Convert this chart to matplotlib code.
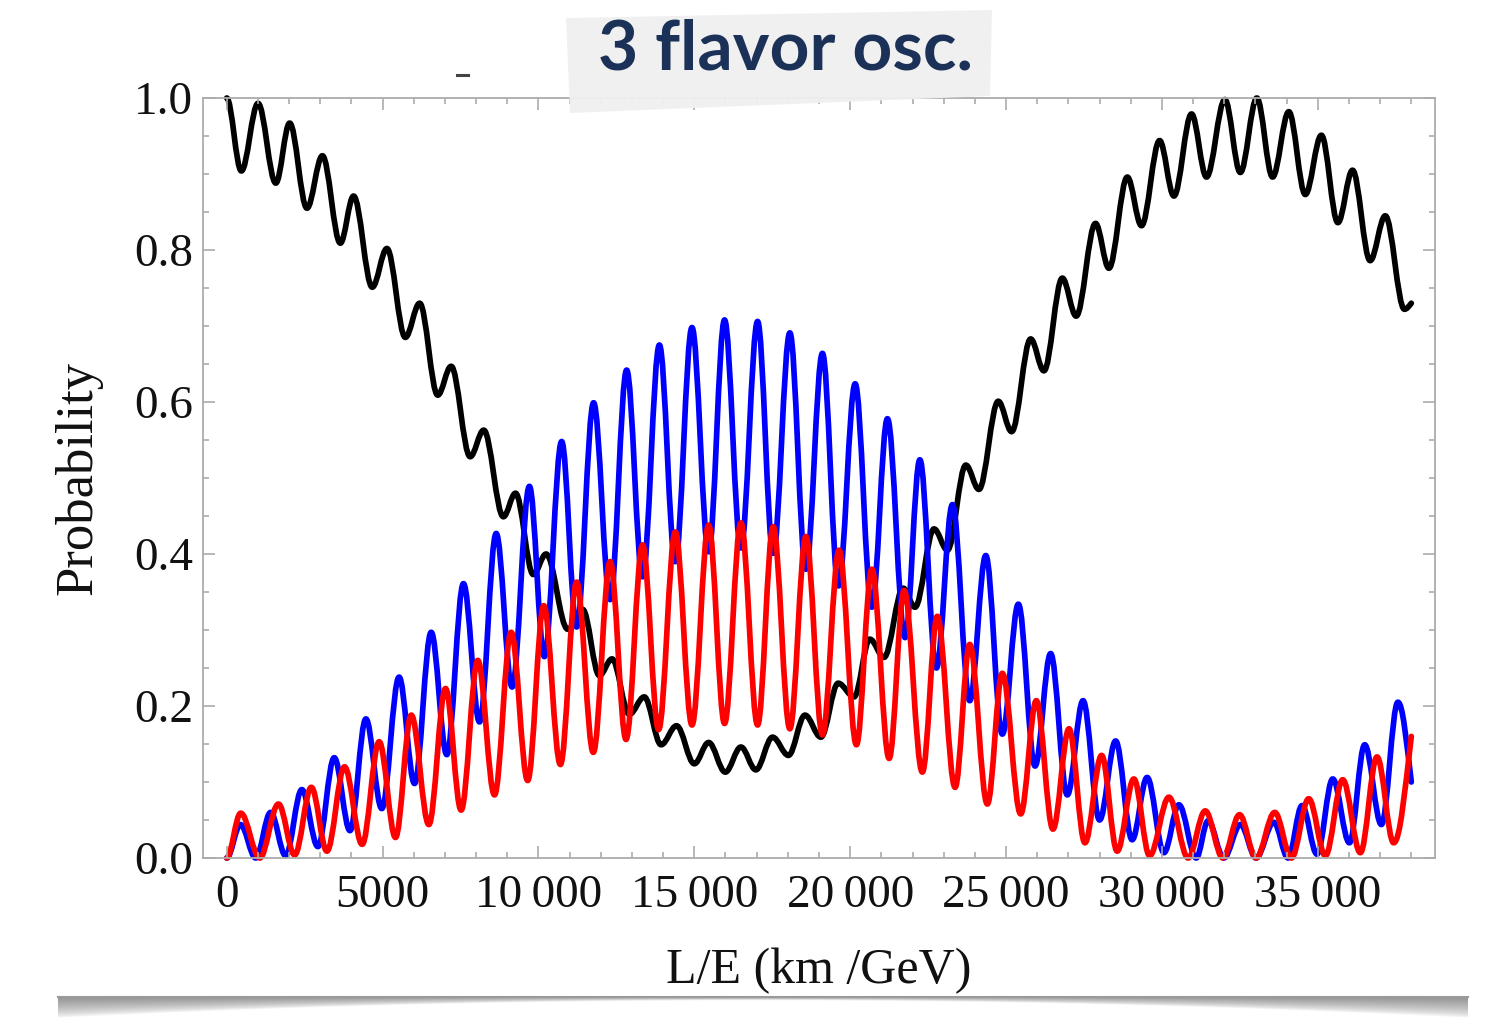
import numpy as np
import matplotlib
matplotlib.use("Agg")
import matplotlib.pyplot as plt
from matplotlib.path import Path
from matplotlib.patches import PathPatch, Polygon
from matplotlib.ticker import MultipleLocator, FixedLocator, FixedFormatter

# ---- oscillation curves: turning points (L/E in km/GeV, probability) ----
black_x = [0, 470, 1005, 1575, 2020, 2575, 3070, 3645, 4070, 4670, 5140, 5730,
           6190, 6770, 7200, 7810, 8245, 8875, 9265, 9835, 10245, 10940, 11420,
           11955, 12360, 12915, 13395, 13935, 14430, 15000, 15460, 15995, 16495,
           16975, 17510, 18020, 18550, 19060, 19615, 20125, 20630, 21085, 21700,
           22080, 22690, 23120, 23710, 24130, 24750, 25180, 25790, 26215, 26805,
           27250, 27870, 28300, 28890, 29345, 29925, 30385, 30950, 31430, 32020,
           32515, 33045, 33550, 34070, 34600, 35115, 35645, 36115, 36680, 37165,
           37780, 38000]
black_y = [1.000, 0.904, 0.993, 0.888, 0.967, 0.855, 0.924, 0.809, 0.871, 0.751,
           0.802, 0.685, 0.730, 0.609, 0.647, 0.528, 0.563, 0.449, 0.480, 0.373,
           0.400, 0.301, 0.327, 0.240, 0.262, 0.189, 0.212, 0.149, 0.174, 0.124,
           0.152, 0.113, 0.146, 0.116, 0.159, 0.135, 0.188, 0.159, 0.230, 0.212,
           0.288, 0.264, 0.355, 0.330, 0.433, 0.405, 0.517, 0.485, 0.601, 0.561,
           0.683, 0.641, 0.763, 0.713, 0.835, 0.776, 0.896, 0.832, 0.944, 0.871,
           0.979, 0.896, 0.998, 0.902, 1.000, 0.896, 0.982, 0.873, 0.951, 0.836,
           0.905, 0.786, 0.845, 0.722, 0.730]

blue_x = [0, 442, 930, 1410, 1890, 2410, 2925, 3450, 3955, 4465, 4975, 5530,
          6025, 6560, 7060, 7595, 8110, 8645, 9155, 9710, 10190, 10745, 11225,
          11770, 12300, 12830, 13340, 13880, 14390, 14925, 15460, 15970, 16495,
          17030, 17530, 18065, 18580, 19110, 19625, 20160, 20695, 21195, 21760,
          22235, 22765, 23280, 23835, 24350, 24880, 25395, 25930, 26430, 26965,
          27470, 28000, 28515, 29045, 29525, 30065, 30545, 31100, 31480, 31985,
          32520, 33020, 33590, 34045, 34495, 34975, 35480, 36015, 36505, 37040,
          37570, 38000]
blue_y = [0.000, 0.044, 0.000, 0.060, 0.003, 0.090, 0.015, 0.132, 0.036, 0.183,
          0.065, 0.238, 0.098, 0.297, 0.136, 0.361, 0.179, 0.427, 0.225, 0.489,
          0.265, 0.548, 0.304, 0.599, 0.340, 0.642, 0.370, 0.675, 0.390, 0.698,
          0.403, 0.708, 0.408, 0.706, 0.401, 0.691, 0.380, 0.664, 0.358, 0.624,
          0.330, 0.578, 0.290, 0.524, 0.250, 0.465, 0.207, 0.398, 0.163, 0.334,
          0.121, 0.269, 0.083, 0.207, 0.050, 0.154, 0.024, 0.106, 0.007, 0.070,
          0.000, 0.049, 0.000, 0.044, 0.000, 0.047, 0.000, 0.069, 0.005, 0.104,
          0.020, 0.149, 0.044, 0.205, 0.100]

red_x = [0, 450, 1060, 1660, 2180, 2715, 3215, 3780, 4345, 4890, 5415, 5920,
         6485, 7020, 7520, 8055, 8590, 9125, 9655, 10170, 10705, 11225, 11760,
         12300, 12810, 13340, 13855, 14390, 14925, 15460, 15970, 16495, 17030,
         17530, 18065, 18580, 19110, 19645, 20200, 20695, 21250, 21730, 22315,
         22795, 23365, 23835, 24400, 24880, 25470, 25970, 26505, 27020, 27530,
         28065, 28565, 29100, 29605, 30225, 30840, 31390, 31955, 32490, 33020,
         33620, 34155, 34710, 35245, 35800, 36365, 36900, 37435, 38000]
red_y = [0.000, 0.059, 0.000, 0.071, 0.004, 0.093, 0.009, 0.120, 0.018, 0.153,
         0.027, 0.188, 0.044, 0.223, 0.063, 0.260, 0.083, 0.297, 0.102, 0.332,
         0.123, 0.363, 0.139, 0.390, 0.156, 0.412, 0.169, 0.429, 0.175, 0.438,
         0.177, 0.441, 0.175, 0.436, 0.170, 0.423, 0.162, 0.405, 0.149, 0.380,
         0.131, 0.352, 0.113, 0.318, 0.093, 0.281, 0.071, 0.243, 0.058, 0.207,
         0.038, 0.170, 0.020, 0.135, 0.009, 0.104, 0.003, 0.080, 0.000, 0.062,
         0.000, 0.057, 0.000, 0.060, 0.000, 0.078, 0.003, 0.103, 0.007, 0.133,
         0.020, 0.160]

x_ticks = [0, 5000, 10000, 15000, 20000, 25000, 30000, 35000]
x_tick_labels = ["0", "5000", "10\u2009000", "15\u2009000", "20\u2009000",
                 "25\u2009000", "30\u2009000", "35\u2009000"]
y_ticks = [0.0, 0.2, 0.4, 0.6, 0.8, 1.0]
y_tick_labels = ["0.0", "0.2", "0.4", "0.6", "0.8", "1.0"]

title_text = "3 flavor osc."
x_label = "L/E (km /GeV)"
y_label = "Probability"

W, H = 1485, 1024
fig = plt.figure(figsize=(W / 100, H / 100), dpi=100)
fig.patch.set_facecolor("white")


def fx(px):
    return px / W


def fy(py):
    return 1 - py / H


ax = fig.add_axes([fx(203), fy(858), fx(1435) - fx(203), fy(98) - fy(858)])
ax.set_xlim(-760, 38760)
ax.set_ylim(0, 1)


def turning_point_path(xs, ys, a=0.36):
    """Smooth path through successive turning points (flat tangents there);
    the final point is treated as a free end."""
    verts = [(xs[0], ys[0])]
    codes = [Path.MOVETO]
    n = len(xs)
    for i in range(n - 1):
        x0, y0, x1, y1 = xs[i], ys[i], xs[i + 1], ys[i + 1]
        dx = x1 - x0
        c1 = (x0 + a * dx, y0)
        if i == n - 2:
            c2 = (x1 - a * dx, y1 - 0.5 * (y1 - y0))
        else:
            c2 = (x1 - a * dx, y1)
        verts += [c1, c2, (x1, y1)]
        codes += [Path.CURVE4] * 3
    return Path(verts, codes)


for xs, ys, col in [(black_x, black_y, "black"),
                    (blue_x, blue_y, "#0000ff"),
                    (red_x, red_y, "#ff0000")]:
    patch = PathPatch(turning_point_path(xs, ys), facecolor="none",
                      edgecolor=col, lw=4.1, capstyle="round",
                      joinstyle="round", transform=ax.transData, clip_on=False)
    ax.add_patch(patch)

frame_col = "#ababab"
for sp in ax.spines.values():
    sp.set_color(frame_col)
    sp.set_linewidth(1.3)

ax.xaxis.set_major_locator(FixedLocator(x_ticks))
ax.xaxis.set_major_formatter(FixedFormatter(x_tick_labels))
ax.xaxis.set_minor_locator(FixedLocator(np.arange(1000, 38001, 1000)))
ax.yaxis.set_major_locator(FixedLocator(y_ticks))
ax.yaxis.set_major_formatter(FixedFormatter(y_tick_labels))
ax.yaxis.set_minor_locator(MultipleLocator(0.05))

ax.tick_params(which="both", direction="in", top=True, right=True,
               color=frame_col, width=1.2)
ax.tick_params(which="major", length=8.5)
ax.tick_params(which="minor", length=4.5)
ax.tick_params(axis="x", which="major", pad=12)
ax.tick_params(axis="y", which="major", pad=7)
for lab in ax.get_xticklabels() + ax.get_yticklabels():
    lab.set_fontfamily("Liberation Serif")
    lab.set_fontsize(34)
    lab.set_color("#111111")

fig.text(fx(819), fy(971), x_label, ha="center", va="center",
         fontfamily="Liberation Serif", fontsize=36, color="#111111")
fig.text(fx(78), fy(478), y_label, ha="center", va="center", rotation=90,
         fontfamily="Liberation Serif", fontsize=38, color="#111111")

# paper tape label across the top
tape = Polygon([(fx(566), fy(18)), (fx(992), fy(10)), (fx(990), fy(96)),
                (fx(570), fy(113))], closed=True, transform=fig.transFigure,
               facecolor="#f0f0f0", edgecolor="none", alpha=0.95, zorder=5)
fig.patches.append(tape)
fig.text(fx(786), fy(50), title_text, ha="center", va="center",
         fontfamily=["Lato", "DejaVu Sans"], fontweight="bold", fontsize=50,
         color="#1c3157", zorder=6)

# small stray mark left of the tape
fig.add_artist(plt.Line2D([fx(457), fx(468)], [fy(75), fy(75)],
                          transform=fig.transFigure, color="#444444", lw=2.2))

# slide shadow along the bottom
sh_ax = fig.add_axes([fx(58), fy(1018), fx(1468) - fx(58), fy(996) - fy(1018)])
sh_ax.set_axis_off()
nx, ny = 700, 44
u = np.linspace(-1, 1, nx)
thick = 0.18 + 0.82 * np.abs(u) ** 2.0
v = np.linspace(0, 1, ny)[:, None]
alpha = np.clip(1 - v / thick[None, :], 0, 1) ** 0.7 * 0.75
rgba = np.zeros((ny, nx, 4))
rgba[..., :3] = 0.42
rgba[..., 3] = alpha
sh_ax.imshow(rgba, aspect="auto", extent=[0, 1, 1, 0], interpolation="bilinear")
sh_ax.set_xlim(0, 1)
sh_ax.set_ylim(1, 0)
fig.add_artist(plt.Line2D([fx(58), fx(1468)], [fy(997), fy(997)],
                          transform=fig.transFigure, color="#9a9a9a", lw=1.5))

fig.savefig("out.png", dpi=100, facecolor="white")
